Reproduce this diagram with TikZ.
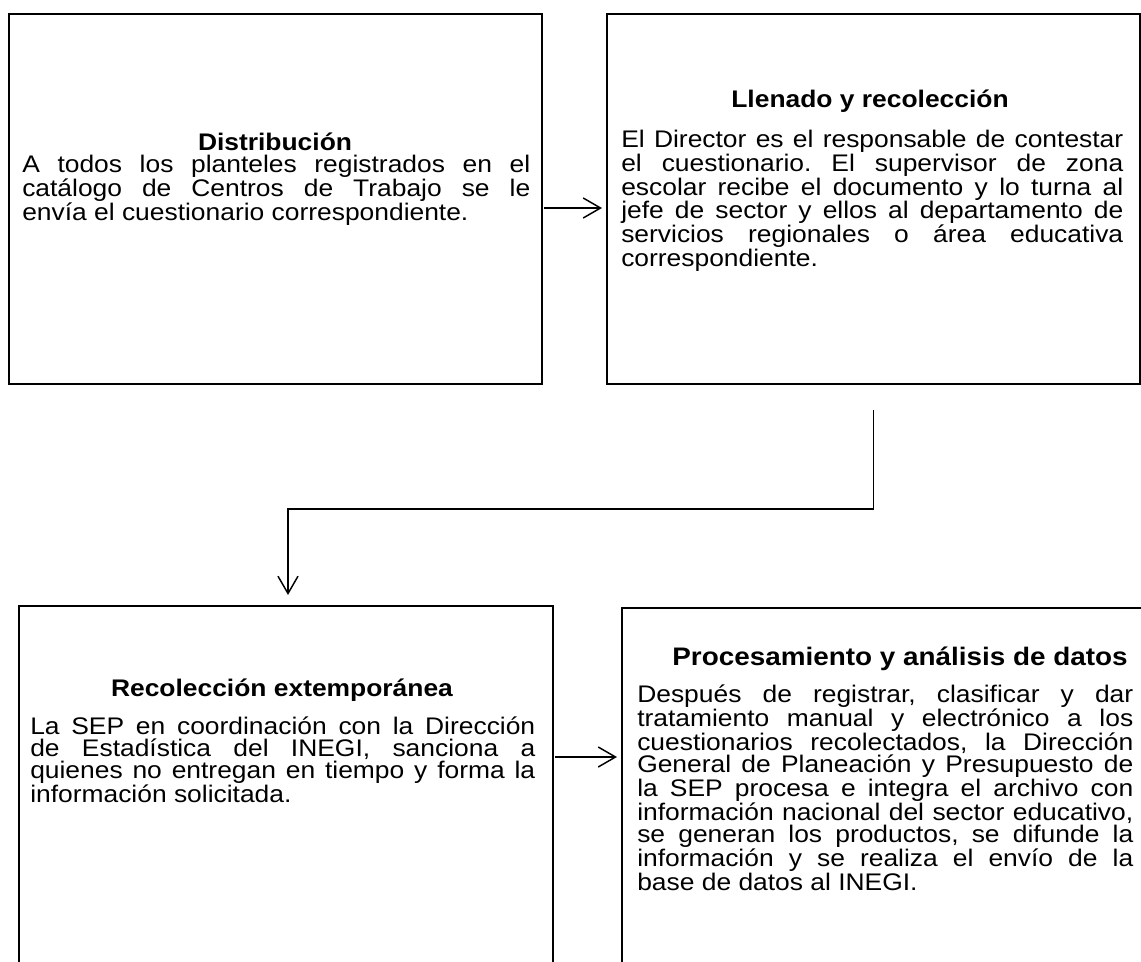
\documentclass[tikz,border=0pt]{standalone}
\usepackage{fontspec}
\setmainfont{Liberation Sans}[FakeStretch=1.1]
\usetikzlibrary{arrows.meta,calc}
\frenchspacing
\newcommand{\interlinea}{\setlength{\baselineskip}{16.5pt}\setlength{\lineskiplimit}{-50pt}}
\tikzset{
  caja/.style={draw, line width=1.5pt, inner sep=0pt, anchor=north west},
  titulo/.style={font=\fontsize{18pt}{16.5pt}\selectfont\bfseries, inner sep=0pt, anchor=base},
  cuerpo/.style={font=\fontsize{18pt}{16.5pt}\selectfont, inner sep=0pt, anchor=north west, align=justify},
  flecha/.style={line width=1.1pt, -{Straight Barb[length=13pt,width=15pt]}}
}
\begin{document}
\begin{tikzpicture}[x=0.75pt,y=-0.75pt]
\useasboundingbox (0,0) rectangle (1141,962);
\clip (0,0) rectangle (1141,962);
\node[caja, minimum width=399.75pt, minimum height=277.5pt] (dist) at (8,13) {};
\node[caja, minimum width=399.75pt, minimum height=277.5pt] (llen) at (606,13) {};
\node[caja, minimum width=400.5pt, minimum height=300pt] (recol) at (18,605) {};
\node[caja, minimum width=405pt, minimum height=300pt] (proc) at (621,607) {};
\node[titulo] (dist-t) at (275,151) {Distribución};
\node[cuerpo, text width=381pt] (dist-c) at (22,155) {\interlinea A todos los planteles registrados en el\linebreak catálogo de Centros de Trabajo se le\linebreak envía el cuestionario correspondiente.};
\node[titulo] (llen-t) at (870,108) {Llenado y recolección};
\node[cuerpo, text width=376.5pt] (llen-c) at (621,130) {\interlinea El Director es el responsable de contestar\linebreak el cuestionario. El supervisor de zona\linebreak escolar recibe el documento y lo turna al\linebreak jefe de sector y ellos al departamento de\linebreak servicios regionales o área educativa\linebreak correspondiente.};
\node[titulo] (recol-t) at (282,696) {Recolección extemporánea};
\node[cuerpo, text width=378.75pt] (recol-c) at (30,717) {\interlinea La SEP en coordinación con la Dirección\linebreak de Estadística del INEGI, sanciona a\linebreak quienes no entregan en tiempo y forma la\linebreak información solicitada.};
\node[titulo, font=\fontsize{19pt}{16.5pt}\selectfont\bfseries] (proc-t) at (900,665) {Procesamiento y análisis de datos};
\node[cuerpo, text width=372pt] (proc-c) at (637,685) {\interlinea Después de registrar, clasificar y dar\linebreak tratamiento manual y electrónico a los\linebreak cuestionarios recolectados, la Dirección\linebreak General de Planeación y Presupuesto de\linebreak la SEP procesa e integra el archivo con\linebreak información nacional del sector educativo,\linebreak se generan los productos, se difunde la\linebreak información y se realiza el envío de la\linebreak base de datos al INEGI.};
\coordinate (fila1) at (0,208);
\coordinate (fila2) at (0,757);
\draw[flecha, shorten <=1pt, shorten >=3pt] (dist.east |- fila1) -- (llen.west |- fila1);
\draw[flecha, shorten <=1pt, shorten >=3pt] (recol.east |- fila2) -- (proc.west |- fila2);
\draw[flecha] ($(llen.south)+(0,25)$) -- ++(0,99) -| ($(recol.north)+(2,-10)$);
\end{tikzpicture}
\end{document}
